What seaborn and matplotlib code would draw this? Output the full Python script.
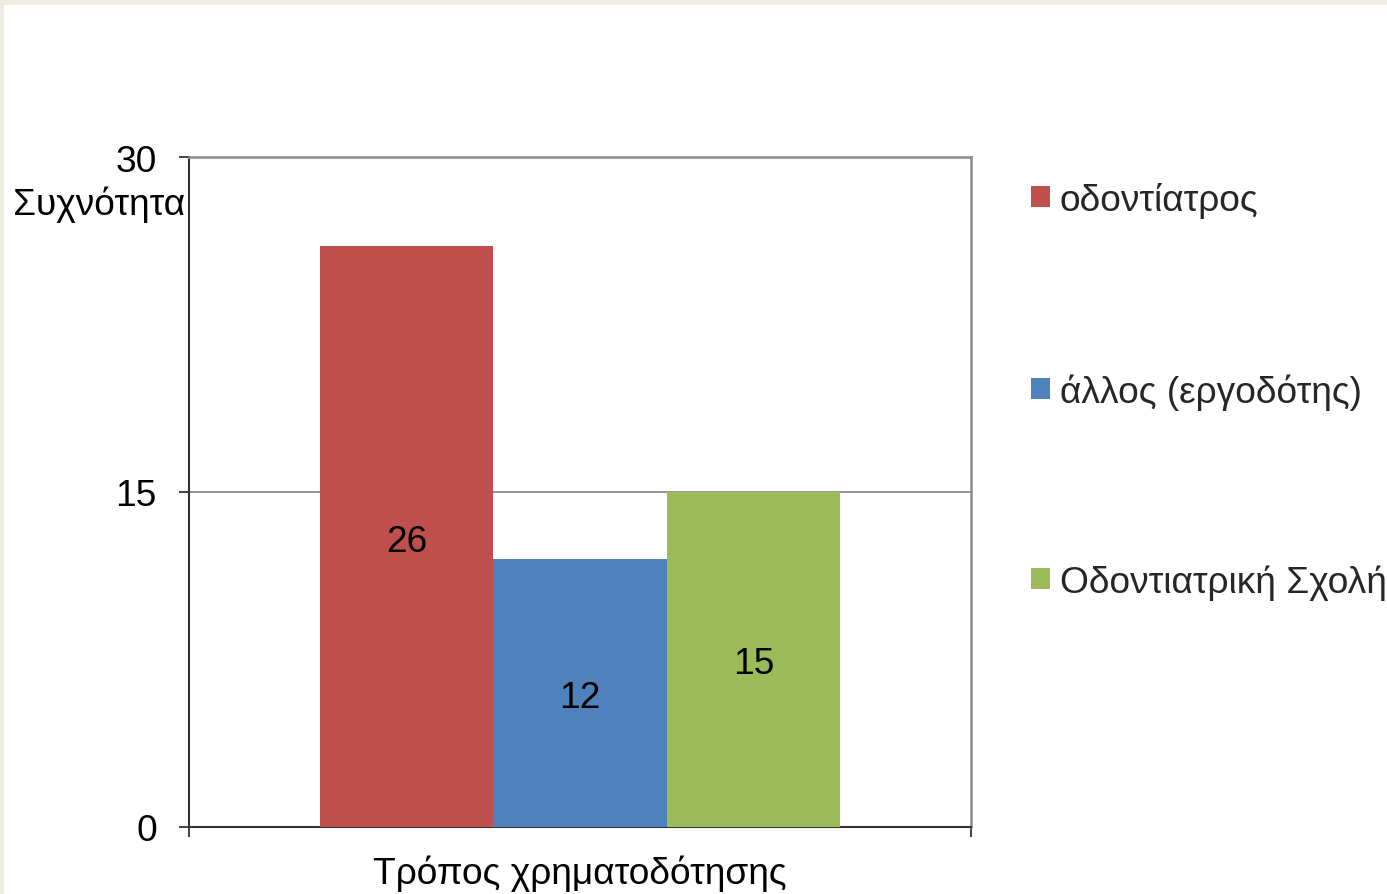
import matplotlib
matplotlib.use("Agg")
import matplotlib.pyplot as plt
import matplotlib.patches as mpatches
import seaborn as sns
import pandas as pd

# Funding source data
group_label = ["Τρόπος χρηματοδότησης"]
series_names = ["οδοντίατρος", "άλλος (εργοδότης)", "Οδοντιατρική Σχολή"]
series_values = [26, 12, 15]
series_colors = ["#C0504D", "#4F81BD", "#9BBB59"]
y_ticks = [0, 15, 30]
y_title = "Συχνότητα"

df = pd.DataFrame({
    "group": group_label * len(series_names),
    "series": series_names,
    "value": series_values,
})

sns.set_theme(style="white")
plt.rcParams["font.family"] = ["Liberation Sans", "DejaVu Sans"]

W, H, DPI = 1387, 895, 100
fig = plt.figure(figsize=(W / DPI, H / DPI), dpi=DPI)
fig.patch.set_facecolor("#EEECE1")
fig.patches.append(mpatches.Rectangle((4 / W, 0), 1, 1 - 6 / H, transform=fig.transFigure,
                                      facecolor="white", edgecolor="none", zorder=-10))

ax = fig.add_axes([189 / W, 1 - 828 / H, (971 - 189) / W, (828 - 158) / H])
ax.set_facecolor("white")

sns.barplot(data=df, x="group", y="value", hue="series", hue_order=series_names,
            palette=series_colors, width=0.666, gap=0, saturation=1,
            edgecolor="none", linewidth=0, ax=ax, legend=True, zorder=3)

fs = 26.7
# value labels centred in each bar, nudged slightly downward
for cont in ax.containers:
    texts = ax.bar_label(cont, labels=[f"{v:g}" for v in cont.datavalues],
                         label_type="center", fontsize=fs, color="black")
    for t in texts:
        t.xyann = (0, -3.2)

ax.set_xlim(-0.5, 0.5)
ax.set_ylim(0, 30)
ax.set_yticks(y_ticks)
ax.tick_params(axis="y", which="major", length=7.2, width=1.3, color="#333333",
               pad=16, labelsize=fs, left=True, labelcolor="black")
ax.tick_params(axis="x", which="major", length=0, pad=20, labelsize=fs, labelcolor="black")
ax.set_xticks([-0.5, 0.5], minor=True)
ax.tick_params(axis="x", which="minor", length=7.2, width=1.3, color="#333333", bottom=True)
ax.set_xlabel("")
ax.set_ylabel("")

ax.yaxis.grid(True, color="#8C8C8C", linewidth=1.3, zorder=0)
ax.set_axisbelow(True)
for side in ["top", "right"]:
    ax.spines[side].set_visible(True)
    ax.spines[side].set_color("#8C8C8C")
    ax.spines[side].set_linewidth(1.8)
for side in ["left", "bottom"]:
    ax.spines[side].set_visible(True)
    ax.spines[side].set_color("#333333")
    ax.spines[side].set_linewidth(1.5)

fig.text(185 / W, 1 - 205 / H, y_title, ha="right", va="center", fontsize=fs, color="black")

handles, labels = ax.get_legend_handles_labels()
ax.legend_.remove()
fig.legend(handles, labels, loc="upper left", bbox_to_anchor=(1031 / W, 1 - 183 / H),
           frameon=False, fontsize=fs, handlelength=0.5, handleheight=0.5,
           handletextpad=0.28, labelspacing=4.18, borderpad=0, borderaxespad=0)

fig.savefig("out.png", dpi=DPI, facecolor=fig.get_facecolor())
